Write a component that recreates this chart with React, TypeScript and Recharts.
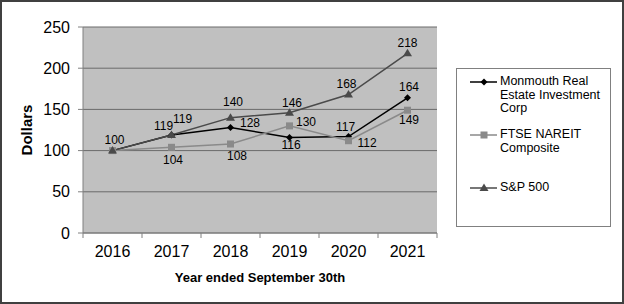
import React from "react";
import {
  LineChart,
  Line,
  XAxis,
  YAxis,
  CartesianGrid,
  Legend,
  LabelList,
} from "recharts";

const years = ["2016", "2017", "2018", "2019", "2020", "2021"];
const monmouth = [100, 119, 128, 116, 117, 164];
const ftse = [100, 104, 108, 130, 112, 149];
const sp500 = [100, 119, 140, 146, 168, 218];
const yTicks = [0, 50, 100, 150, 200, 250];

const data = years.map((year, i) => ({
  year,
  monmouth: monmouth[i],
  ftse: ftse[i],
  sp500: sp500[i],
}));

const FONT = "'Liberation Sans', Arial, sans-serif";

// where each data label sits relative to its point (dx, dy of text centre)
type Off = [number, number] | null;
const labelOffsets: Record<string, Off[]> = {
  monmouth: [null, [11, -16], [19.5, -4.5], [1.5, 7.5], [-3, -10], [1.5, -11]],
  ftse: [null, [1.5, 12], [6.5, 12], [16.5, -4.5], [18.5, 2.5], [1.5, 10]],
  sp500: [[2, -11], [-8, -9.5], [2.5, -16], [2.5, -10], [-2, -11], [0, -11]],
};

const Diamond = ({ cx, cy, fill }: any) =>
  cx == null ? null : (
    <path
      d={`M${cx},${cy - 3.5}L${cx + 3.5},${cy}L${cx},${cy + 3.5}L${cx - 3.5},${cy}Z`}
      fill={fill}
    />
  );

const Square = ({ cx, cy, fill }: any) =>
  cx == null ? null : <rect x={cx - 3.5} y={cy - 3.5} width={7} height={7} fill={fill} />;

const Triangle = ({ cx, cy, fill }: any) =>
  cx == null ? null : (
    <path d={`M${cx},${cy - 4.5}L${cx + 4.5},${cy + 3}L${cx - 4.5},${cy + 3}Z`} fill={fill} />
  );

const series = [
  { key: "monmouth", name: ["Monmouth Real", "Estate Investment", "Corp"], color: "#000000", width: 1.5, Shape: Diamond },
  { key: "ftse", name: ["FTSE NAREIT", "Composite"], color: "#8a8a8a", width: 1.5, Shape: Square },
  { key: "sp500", name: ["S&P 500"], color: "#4a4a4a", width: 1.5, Shape: Triangle },
];

const plotLeft = 83;
const plotRight = 437;
const half = (plotRight - plotLeft) / years.length / 2;

const XTick = (props: any) => {
  const { x, y, payload, index } = props;
  const top = y - 13;
  return (
    <g>
      <line x1={x - half} x2={x - half} y1={top} y2={top + 5} stroke="#808080" />
      {index === years.length - 1 && (
        <line x1={x + half} x2={x + half} y1={top} y2={top + 5} stroke="#808080" />
      )}
      <text x={x} y={y} dy="0.71em" textAnchor="middle" fontSize={16} fill="#000" fontFamily={FONT}>
        {payload.value}
      </text>
    </g>
  );
};

const makeLabel = (key: string) => (props: any) => {
  const vb = props.viewBox || {};
  const px = vb.x ?? props.x;
  const py = vb.y ?? props.y;
  const off = labelOffsets[key][props.index];
  if (!off || px == null) return null;
  return (
    <text
      x={px + off[0]}
      y={py + off[1]}
      dy="0.35em"
      textAnchor="middle"
      fontSize={12}
      fill="#000"
      fontFamily={FONT}
    >
      {props.value}
    </text>
  );
};

const renderLegend = () => (
  <div
    style={{
      width: "100%",
      height: "100%",
      boxSizing: "border-box",
      border: "1px solid #808080",
      background: "#fff",
      paddingTop: 6,
      fontFamily: FONT,
      fontSize: 12.5,
      lineHeight: "13.5px",
      color: "#000",
    }}
  >
    {series.map((s) => (
      <div key={s.key} style={{ height: 53, display: "flex", alignItems: "flex-start" }}>
        <svg width={43} height={14} style={{ flex: "none" }}>
          <line x1={13} x2={40} y1={7} y2={7} stroke={s.color} strokeWidth={s.width} />
          <s.Shape cx={27} cy={7} fill={s.color} />
        </svg>
        <div>
          {s.name.map((line) => (
            <div key={line}>{line}</div>
          ))}
        </div>
      </div>
    ))}
  </div>
);

const DollarsLabel = (props: any) => {
  const vb = props.viewBox || {};
  const cx = (vb.x ?? 0) + 27;
  const cy = (vb.y ?? 0) + (vb.height ?? 0) / 2;
  return (
    <text
      x={cx}
      y={cy}
      transform={`rotate(-90 ${cx} ${cy})`}
      textAnchor="middle"
      dy="0.35em"
      fontSize={15}
      fontWeight="bold"
      fill="#000"
      fontFamily={FONT}
    >
      Dollars
    </text>
  );
};

export default function App() {
  return (
    <div style={{ position: "absolute", left: 0, top: 0, width: 624, height: 304, background: "#fff" }}>
      <LineChart
        width={624}
        height={304}
        data={data}
        margin={{ top: 27, right: 624 - plotRight, left: 0, bottom: 0 }}
        style={{ fontFamily: FONT }}
      >
        <CartesianGrid vertical={false} stroke="#6a6a6a" fill="#c0c0c0" fillOpacity={1} />
        <XAxis
          dataKey="year"
          height={71}
          padding={{ left: half, right: half }}
          axisLine={{ stroke: "#808080" }}
          tickLine={false}
          tickSize={5}
          tickMargin={8}
          tick={<XTick />}
          interval={0}
          label={{
            value: "Year ended September 30th",
            position: "insideBottom",
            offset: 22,
            fontSize: 13,
            fontWeight: "bold",
            fill: "#000",
            fontFamily: FONT,
          }}
        />
        <YAxis
          width={plotLeft}
          domain={[0, 250]}
          ticks={yTicks}
          interval={0}
          axisLine={{ stroke: "#808080" }}
          tickLine={{ stroke: "#808080" }}
          tickSize={5}
          tickMargin={8}
          tick={{ fill: "#000", fontSize: 16, fontFamily: FONT }}
          label={{ content: <DollarsLabel /> }}
        />
        <Legend
          content={renderLegend}
          layout="vertical"
          align="center"
          verticalAlign="middle"
          wrapperStyle={{ position: "absolute", left: 456, top: 68, width: 155, height: 159 }}
        />
        {series.map((s) => (
          <Line
            key={s.key}
            dataKey={s.key}
            type="linear"
            stroke={s.color}
            strokeWidth={s.width}
            dot={<s.Shape fill={s.color} />}
            activeDot={false}
            isAnimationActive={false}
          >
            <LabelList dataKey={s.key} content={makeLabel(s.key)} />
          </Line>
        ))}
      </LineChart>
      <div
        style={{
          position: "absolute",
          left: 0,
          top: 0,
          width: 624,
          height: 304,
          boxSizing: "border-box",
          border: "2px solid #404040",
          pointerEvents: "none",
        }}
      />
    </div>
  );
}
